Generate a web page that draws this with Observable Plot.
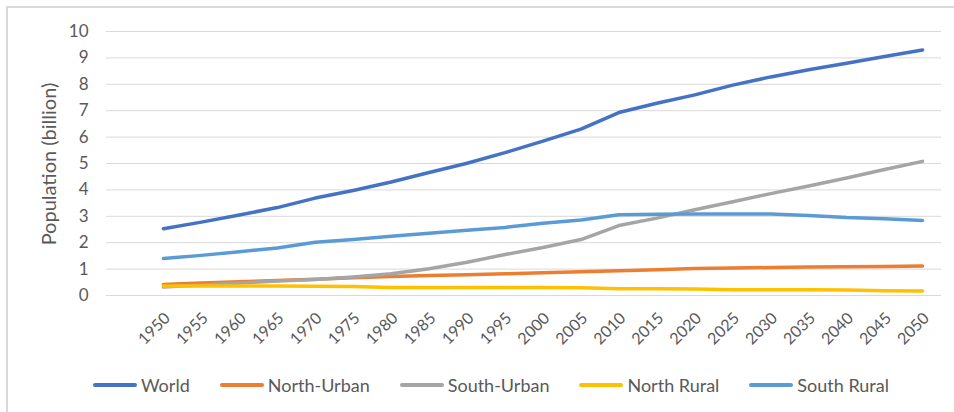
<!DOCTYPE html>
<html>
<head>
<meta charset="utf-8">
<script src="https://cdn.jsdelivr.net/npm/d3@7"></script>
<script src="https://cdn.jsdelivr.net/npm/@observablehq/plot@0.6"></script>
<style>
  html, body { margin: 0; padding: 0; background: #fff; }
  #wrap { position: relative; width: 954px; height: 412px; overflow: hidden; font-family: Lato, "Open Sans", sans-serif; }
  #border { position: absolute; left: 6px; top: 6px; width: 1000px; height: 1000px; border-left: 2px solid #d9d9d9; border-top: 2px solid #d9d9d9; box-sizing: border-box; }
  #legend { position: absolute; left: 93px; top: 374px; display: flex; gap: 30px; align-items: center; font-size: 18px; color: #595959; }
  .item { display: flex; align-items: center; gap: 4px; white-space: nowrap; }
  .sw { width: 44px; height: 4px; border-radius: 2px; }
  #ytitle { position: absolute; left: 48px; top: 164px; transform: translate(-50%, -50%) rotate(-90deg); font-size: 20px; color: #595959; white-space: nowrap; line-height: 1; }
</style>
</head>
<body>
<div id="wrap">
  <div id="border"></div>
  <div id="chart"></div>
  <div id="ytitle"></div>
  <div id="legend"></div>
</div>
<script>
const years = [1950,1955,1960,1965,1970,1975,1980,1985,1990,1995,2000,2005,2010,2015,2020,2025,2030,2035,2040,2045,2050];
const yearLabels = ["1950","1955","1960","1965","1970","1975","1980","1985","1990","1995","2000","2005","2010","2015","2020","2025","2030","2035","2040","2045","2050"];
const seriesNames = ["World","North-Urban","South-Urban","North Rural","South Rural"];
const seriesColors = ["#4472C4","#ED7D31","#A5A5A5","#FFC000","#5B9BD5"];
const world      = [2.53,2.78,3.05,3.33,3.69,3.98,4.30,4.66,5.01,5.41,5.85,6.30,6.93,7.28,7.60,7.97,8.28,8.55,8.80,9.05,9.30];
const northUrban = [0.42,0.47,0.52,0.57,0.62,0.67,0.72,0.76,0.79,0.82,0.86,0.90,0.94,0.98,1.02,1.04,1.06,1.08,1.09,1.10,1.12];
const southUrban = [0.32,0.40,0.47,0.55,0.61,0.70,0.82,1.01,1.26,1.55,1.82,2.12,2.65,2.93,3.25,3.55,3.86,4.15,4.45,4.77,5.08];
const northRural = [0.36,0.36,0.36,0.36,0.35,0.34,0.30,0.30,0.30,0.30,0.30,0.29,0.26,0.26,0.25,0.22,0.22,0.22,0.21,0.18,0.17];
const southRural = [1.40,1.52,1.66,1.80,2.02,2.12,2.24,2.36,2.47,2.58,2.74,2.86,3.06,3.08,3.09,3.09,3.09,3.03,2.95,2.91,2.84];
const yTicks = [0,1,2,3,4,5,6,7,8,9,10];
const yTitle = "Population (billion)";

const seriesValues = [world, northUrban, southUrban, northRural, southRural];
const rows = [];
seriesNames.forEach((name, i) => {
  years.forEach((yr, j) => rows.push({series: name, year: yr, value: seriesValues[i][j]}));
});
const xLabels = years.map((yr, j) => ({year: yr, label: yearLabels[j]}));

const textColor = "#595959";
const chart = Plot.plot({
  width: 954,
  height: 412,
  marginTop: 31,
  marginBottom: 117,
  marginLeft: 106,
  marginRight: 13,
  style: { fontFamily: "Lato, 'Open Sans', sans-serif", background: "transparent", color: textColor, overflow: "visible" },
  x: { type: "linear", domain: [1942.5, 2052.5], axis: null },
  y: { domain: [0, 10], axis: null },
  color: { domain: seriesNames, range: seriesColors },
  marks: [
    Plot.gridY(yTicks, { stroke: "#d9d9d9", strokeOpacity: 1, strokeWidth: 1 }),
    Plot.axisY(yTicks, { tickSize: 0, tickPadding: 18, fontSize: 17, fill: textColor, label: null }),
    Plot.text(xLabels, { x: "year", text: "label", frameAnchor: "bottom", dx: 4, dy: 20, rotate: -45, textAnchor: "end", lineAnchor: "middle", fontSize: 16, fill: textColor }),
    Plot.line(rows, { x: "year", y: "value", z: "series", stroke: "series", strokeWidth: 3.5, strokeLinejoin: "round", strokeLinecap: "round" })
  ]
});
document.getElementById("chart").appendChild(chart);
document.getElementById("ytitle").textContent = yTitle;

const legend = document.getElementById("legend");
seriesNames.forEach((name, i) => {
  const item = document.createElement("div");
  item.className = "item";
  const sw = document.createElement("div");
  sw.className = "sw";
  sw.style.background = seriesColors[i];
  const label = document.createElement("span");
  label.textContent = name;
  item.appendChild(sw);
  item.appendChild(label);
  legend.appendChild(item);
});
</script>
</body>
</html>
